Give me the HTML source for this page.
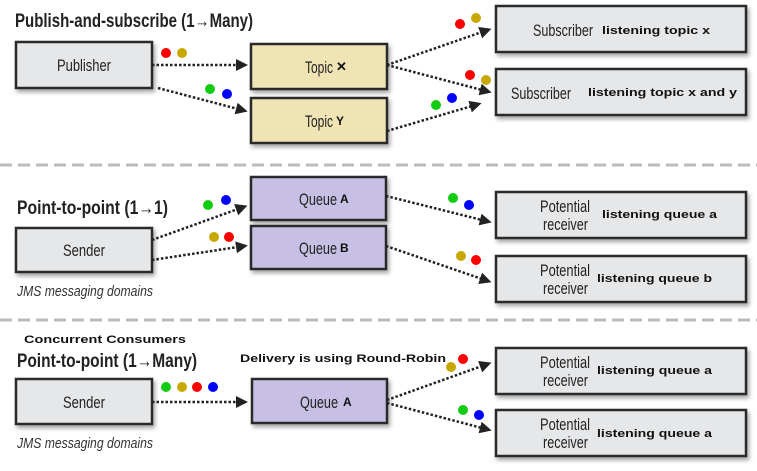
<!DOCTYPE html>
<html><head><meta charset="utf-8"><style>
html,body{margin:0;padding:0;background:#fff;}
svg{display:block;}
.t{font-family:"Liberation Sans",sans-serif;font-size:17px;fill:#222;}
.h{font-family:"Liberation Sans",sans-serif;font-size:19px;font-weight:bold;fill:#222;}
.b{font-family:"Liberation Sans",sans-serif;font-size:11px;font-weight:bold;fill:#111;}
.i{font-family:"Liberation Sans",sans-serif;font-size:15px;font-style:italic;fill:#333;}
.a{stroke:#222;stroke-width:2.5;stroke-dasharray:2.5 2;fill:none;marker-end:url(#ar);}
.box{stroke:#2a2a2a;stroke-width:2.5;filter:url(#sh);}
</style></head><body>
<svg width="757" height="471" viewBox="0 0 757 471" xmlns="http://www.w3.org/2000/svg">
<defs>
<marker id="ar" markerWidth="12" markerHeight="12" refX="2" refY="6" orient="auto" markerUnits="userSpaceOnUse" viewBox="0 0 12 12"><path d="M0,0 L12,6 L0,12 z" fill="#222"/></marker>
<filter id="sh" x="-10%" y="-20%" width="130%" height="150%"><feDropShadow dx="2" dy="3" stdDeviation="2" flood-color="#000" flood-opacity="0.35"/></filter>
</defs>

<!-- Section 1 -->
<text x="15" y="27" class="h" textLength="238" lengthAdjust="spacingAndGlyphs">Publish-and-subscribe  (1→Many)</text>
<rect x="16" y="42" width="136" height="46" fill="#e6e7e9" class="box"/>
<text x="57" y="71" class="t" textLength="54" lengthAdjust="spacingAndGlyphs">Publisher</text>
<rect x="251" y="44" width="136" height="45" fill="#f0e4b4" class="box"/>
<text x="305" y="73" class="t" textLength="28" lengthAdjust="spacingAndGlyphs">Topic</text><text x="336" y="71" class="b" style="font-size:13px">✕</text>
<rect x="251" y="98" width="136" height="45" fill="#f0e4b4" class="box"/>
<text x="305" y="127" class="t" textLength="28" lengthAdjust="spacingAndGlyphs">Topic</text><text x="336" y="125" class="b" style="font-size:12px">Y</text>
<rect x="496" y="6" width="250" height="46" fill="#e6e7e9" class="box"/>
<text x="533" y="36" class="t" textLength="60" lengthAdjust="spacingAndGlyphs">Subscriber</text><text x="602" y="34" class="b" textLength="108" lengthAdjust="spacingAndGlyphs">listening topic x</text>
<rect x="496" y="69" width="250" height="46" fill="#e6e7e9" class="box"/>
<text x="511" y="99" class="t" textLength="60" lengthAdjust="spacingAndGlyphs">Subscriber</text><text x="588" y="96" class="b" textLength="149" lengthAdjust="spacingAndGlyphs">listening topic x and y</text>
<path d="M152,65 L238,65" class="a"/>
<path d="M158,88 L238,109" class="a"/>
<path d="M387,65 L482,32" class="a"/>
<path d="M387,65 L482,90" class="a"/>
<path d="M387,131 L472,106" class="a"/>
<g>
<circle cx="166" cy="53" r="5" fill="#f00"/><circle cx="182" cy="53" r="5" fill="#c8a800"/>
<circle cx="210" cy="89" r="5" fill="#1c1"/><circle cx="227" cy="94" r="5" fill="#00f"/>
<circle cx="460" cy="24" r="5" fill="#f00"/><circle cx="476" cy="18" r="5" fill="#c8a800"/>
<circle cx="470" cy="75" r="5" fill="#f00"/><circle cx="486" cy="80" r="5" fill="#c8a800"/>
<circle cx="436" cy="105" r="5" fill="#1c1"/><circle cx="452" cy="98" r="5" fill="#00f"/>
</g>

<line x1="0" y1="165" x2="757" y2="165" stroke="#bbb" stroke-width="3" stroke-dasharray="12 6"/>

<!-- Section 2 -->
<text x="17" y="214" class="h" textLength="151" lengthAdjust="spacingAndGlyphs">Point-to-point (1→1)</text>
<rect x="251" y="177" width="135" height="43" fill="#c7bfe4" class="box"/>
<text x="299" y="205" class="t" textLength="38" lengthAdjust="spacingAndGlyphs">Queue</text><text x="340" y="203" class="b" style="font-size:12px">A</text>
<rect x="251" y="226" width="135" height="43" fill="#c7bfe4" class="box"/>
<text x="299" y="254" class="t" textLength="38" lengthAdjust="spacingAndGlyphs">Queue</text><text x="340" y="252" class="b" style="font-size:12px">B</text>
<rect x="16" y="228" width="136" height="44" fill="#e6e7e9" class="box"/>
<text x="63" y="256" class="t" textLength="42" lengthAdjust="spacingAndGlyphs">Sender</text>
<text x="17" y="296" class="i" textLength="136" lengthAdjust="spacingAndGlyphs">JMS messaging domains</text>
<rect x="496" y="192" width="250" height="46" fill="#e6e7e9" class="box"/>
<text x="540" y="212" class="t" textLength="50" lengthAdjust="spacingAndGlyphs">Potential</text><text x="543" y="230" class="t" textLength="45" lengthAdjust="spacingAndGlyphs">receiver</text>
<text x="602" y="218" class="b" textLength="115" lengthAdjust="spacingAndGlyphs">listening queue a</text>
<rect x="496" y="256" width="250" height="46" fill="#e6e7e9" class="box"/>
<text x="540" y="276" class="t" textLength="50" lengthAdjust="spacingAndGlyphs">Potential</text><text x="543" y="294" class="t" textLength="45" lengthAdjust="spacingAndGlyphs">receiver</text>
<text x="597" y="282" class="b" textLength="115" lengthAdjust="spacingAndGlyphs">listening queue b</text>
<path d="M152,240 L238,209" class="a"/>
<path d="M152,260 L238,247" class="a"/>
<path d="M386,196 L482,220" class="a"/>
<path d="M386,246 L482,279" class="a"/>
<circle cx="208" cy="205" r="5" fill="#1c1"/><circle cx="226" cy="200" r="5" fill="#00f"/>
<circle cx="214" cy="237" r="5" fill="#c8a800"/><circle cx="229" cy="237" r="5" fill="#f00"/>
<circle cx="453" cy="198" r="5" fill="#1c1"/><circle cx="469" cy="205" r="5" fill="#00f"/>
<circle cx="461" cy="256" r="5" fill="#c8a800"/><circle cx="476" cy="260" r="5" fill="#f00"/>

<line x1="0" y1="320" x2="757" y2="320" stroke="#bbb" stroke-width="3" stroke-dasharray="12 6"/>

<!-- Section 3 -->
<text x="24" y="343" class="b" textLength="162" lengthAdjust="spacingAndGlyphs">Concurrent Consumers</text>
<text x="17" y="367" class="h" textLength="180" lengthAdjust="spacingAndGlyphs">Point-to-point (1→Many)</text>
<text x="240" y="362" class="b" textLength="206" lengthAdjust="spacingAndGlyphs">Delivery is using Round-Robin</text>
<rect x="16" y="379" width="136" height="45" fill="#e6e7e9" class="box"/>
<text x="63" y="408" class="t" textLength="42" lengthAdjust="spacingAndGlyphs">Sender</text>
<text x="17" y="448" class="i" textLength="136" lengthAdjust="spacingAndGlyphs">JMS messaging domains</text>
<rect x="252" y="379" width="135" height="44" fill="#c7bfe4" class="box"/>
<text x="300" y="408" class="t" textLength="38" lengthAdjust="spacingAndGlyphs">Queue</text><text x="343" y="406" class="b" style="font-size:12px">A</text>
<rect x="496" y="348" width="250" height="46" fill="#e6e7e9" class="box"/>
<text x="540" y="368" class="t" textLength="50" lengthAdjust="spacingAndGlyphs">Potential</text><text x="543" y="386" class="t" textLength="45" lengthAdjust="spacingAndGlyphs">receiver</text>
<text x="597" y="374" class="b" textLength="115" lengthAdjust="spacingAndGlyphs">listening queue a</text>
<rect x="496" y="410" width="250" height="46" fill="#e6e7e9" class="box"/>
<text x="540" y="430" class="t" textLength="50" lengthAdjust="spacingAndGlyphs">Potential</text><text x="543" y="448" class="t" textLength="45" lengthAdjust="spacingAndGlyphs">receiver</text>
<text x="597" y="437" class="b" textLength="115" lengthAdjust="spacingAndGlyphs">listening queue a</text>
<path d="M152,402 L238,402" class="a"/>
<path d="M387,400 L482,366" class="a"/>
<path d="M387,403 L482,428" class="a"/>
<circle cx="166" cy="387" r="5" fill="#1c1"/><circle cx="182" cy="387" r="5" fill="#c8a800"/>
<circle cx="197" cy="387" r="5" fill="#f00"/><circle cx="213" cy="387" r="5" fill="#00f"/>
<circle cx="451" cy="367" r="5" fill="#c8a800"/><circle cx="463" cy="359" r="5" fill="#f00"/>
<circle cx="463" cy="410" r="5" fill="#1c1"/><circle cx="479" cy="415" r="5" fill="#00f"/>
</svg>
</body></html>
